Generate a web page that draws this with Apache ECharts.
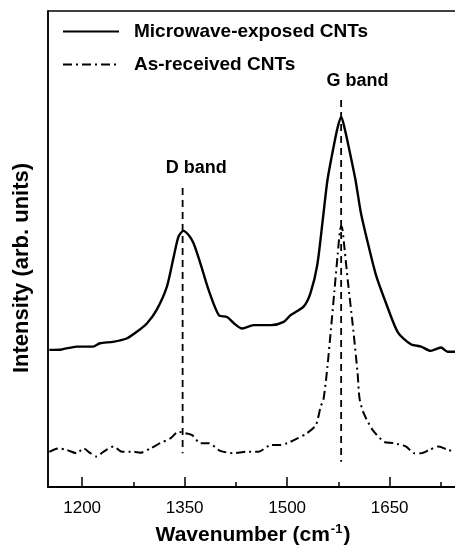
<!DOCTYPE html>
<html>
<head>
<meta charset="utf-8">
<script src="https://cdn.jsdelivr.net/npm/echarts@6/dist/echarts.min.js"></script>
<style>html,body{margin:0;padding:0;background:#fff;}#c{width:455px;height:546px;}</style>
</head>
<body>
<div id="c"></div>
<script>
const majorTicks = [1200, 1350, 1500, 1650];
const minorTicks = [1275, 1425, 1575, 1725];

const microwaveX = [1152,1170,1192,1216,1226,1245,1265,1280,1295,1309,1324,1334,1341,1348,1356,1363,1373,1385,1400,1412,1422,1434,1451,1476,1495,1505,1524,1534,1544,1552,1559,1568,1574,1579,1584,1590,1600,1608,1617,1630,1645,1662,1681,1696,1710,1725,1735,1750];
const microwaveY = [28.8,28.9,29.5,29.5,30.2,30.5,31.2,32.6,34.4,37.2,42.1,48.4,52.6,53.8,52.9,51.2,47.0,41.4,36.1,35.7,34.4,33.3,34.0,34.0,34.7,36.1,37.9,40.7,46.6,56.0,64.5,71.5,75.6,77.8,75.4,71.5,64.5,57.5,51.9,44.5,38.5,32.5,30.0,29.5,28.6,29.3,28.4,28.4];

const receivedX = [1152,1165,1177,1192,1202,1212,1221,1231,1246,1258,1275,1285,1300,1314,1329,1341,1351,1361,1373,1385,1402,1422,1441,1458,1476,1490,1500,1515,1529,1542,1549,1553,1558,1564,1569,1574,1577,1579,1581,1584,1589,1596,1603,1606,1612,1625,1642,1656,1674,1686,1696,1708,1722,1735,1750];
const receivedY = [7.4,8.1,7.8,7.1,8.1,7.1,6.4,7.4,8.5,7.4,7.4,7.2,8.1,9.2,10.2,11.6,11.3,10.9,9.2,9.2,7.6,7.1,7.4,7.4,8.8,8.8,9.2,10.2,11.3,13.0,16.9,18.3,24,33,41,49,53.5,54.8,54,50,43,34,24,18.5,15.5,12.0,9.5,9.2,8.5,7.1,7.1,7.8,8.5,7.8,7.4];

const dBandLine = [[1347, 62.8], [1347, 7.1]];
const gBandLine = [[1579, 81.3], [1579, 5.3]];
const bandLabels = [[1367, 67, 'D band'], [1603, 85.3, 'G band']];

const seriesNames = ['Microwave-exposed CNTs', 'As-received CNTs'];

const zip = (xs, ys) => xs.map((x, i) => [x, ys[i]]);
const FONT = '"Liberation Sans", Arial, Helvetica, sans-serif';

const chart = echarts.init(document.getElementById('c'), null, {renderer: 'canvas'});
chart.setOption({
  animation: false,
  backgroundColor: '#fff',
  textStyle: {fontFamily: FONT, color: '#000'},
  grid: [
    {left: 48, top: 11, width: 410, height: 476, show: true, borderColor: '#000', borderWidth: 1.5, containLabel: false, outerBoundsMode: 'none'},
    {left: 48, top: 11, width: 410, height: 476, show: false, containLabel: false, outerBoundsMode: 'none'}
  ],
  legend: {
    orient: 'vertical',
    left: 57,
    top: 17,
    itemWidth: 56,
    itemHeight: 18,
    itemGap: 14,
    selectedMode: false,
    data: seriesNames,
    itemStyle: {opacity: 0},
    textStyle: {fontFamily: FONT, fontSize: 19, fontWeight: 'bold', color: '#000', padding: [0, 0, 0, 10]}
  },
  xAxis: [
    {
      type: 'value', gridIndex: 0, min: 1150, max: 1750, position: 'bottom',
      name: '{a|Wavenumber (cm}{s|-1}{a|)}',
      nameLocation: 'middle', nameGap: 36,
      nameTextStyle: {
        rich: {
          a: {fontFamily: FONT, fontSize: 21, fontWeight: 'bold', color: '#000', lineHeight: 24},
          s: {fontFamily: FONT, fontSize: 13, fontWeight: 'bold', color: '#000', verticalAlign: 'top', lineHeight: 24, padding: [0, 1, 0, 1]}
        }
      },
      axisLine: {show: true, lineStyle: {color: '#000', width: 2}},
      axisTick: {show: true, inside: true, length: 10, lineStyle: {color: '#000', width: 1.5}, customValues: majorTicks},
      axisLabel: {show: true, fontFamily: FONT, fontSize: 17, color: '#000', margin: 13, customValues: majorTicks, formatter: v => String(v)},
      splitLine: {show: false}
    },
    {
      type: 'value', gridIndex: 1, min: 1150, max: 1750, position: 'bottom',
      axisLine: {show: false},
      axisTick: {show: true, inside: true, length: 5, lineStyle: {color: '#000', width: 1.5}, customValues: minorTicks},
      axisLabel: {show: false},
      splitLine: {show: false}
    }
  ],
  yAxis: [
    {
      type: 'value', gridIndex: 0, min: 0, max: 100,
      name: 'Intensity (arb. units)',
      nameLocation: 'middle', nameGap: 15, nameRotate: 90,
      nameTextStyle: {fontFamily: FONT, fontSize: 22, fontWeight: 'bold', color: '#000', padding: [0, 38, 0, 0]},
      axisLine: {show: true, lineStyle: {color: '#000', width: 1.5}},
      axisTick: {show: false},
      axisLabel: {show: false},
      splitLine: {show: false}
    },
    {
      type: 'value', gridIndex: 1, min: 0, max: 100,
      axisLine: {show: false}, axisTick: {show: false}, axisLabel: {show: false}, splitLine: {show: false}
    }
  ],
  series: [
    {
      name: seriesNames[0], type: 'line', xAxisIndex: 0, yAxisIndex: 0,
      data: zip(microwaveX, microwaveY),
      showSymbol: false, symbol: 'none', smooth: 0.25,
      lineStyle: {color: '#000', width: 2.4, type: 'solid'},
      itemStyle: {color: '#000'}
    },
    {
      name: seriesNames[1], type: 'line', xAxisIndex: 0, yAxisIndex: 0,
      data: zip(receivedX, receivedY),
      showSymbol: false, symbol: 'none', smooth: 0.25,
      lineStyle: {color: '#000', width: 2, type: [9, 4, 2, 4]},
      itemStyle: {color: '#000'}
    },
    {
      name: 'D line', type: 'line', xAxisIndex: 0, yAxisIndex: 0,
      data: dBandLine, showSymbol: false, symbol: 'none',
      lineStyle: {color: '#000', width: 1.8, type: [7, 5]}
    },
    {
      name: 'G line', type: 'line', xAxisIndex: 0, yAxisIndex: 0,
      data: gBandLine, showSymbol: false, symbol: 'none',
      lineStyle: {color: '#000', width: 1.8, type: [7, 5]}
    },
    {
      name: 'labels', type: 'scatter', xAxisIndex: 0, yAxisIndex: 0,
      data: bandLabels, symbolSize: 0,
      itemStyle: {opacity: 1, color: '#000'},
      label: {
        show: true, position: 'inside', opacity: 1,
        formatter: p => p.data[2],
        fontFamily: FONT, fontSize: 18, fontWeight: 'bold', color: '#000'
      }
    }
  ]
});
</script>
</body>
</html>
